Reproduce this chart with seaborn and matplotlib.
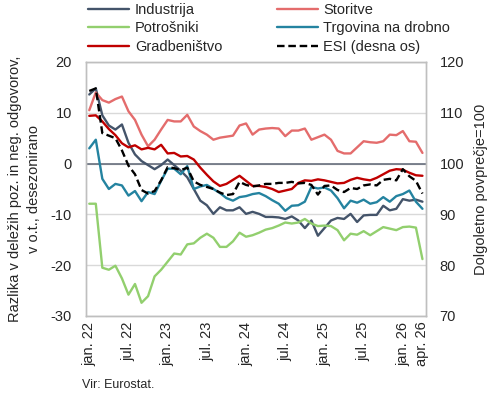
import pandas as pd
import seaborn as sns
import matplotlib
matplotlib.use("Agg")
from matplotlib import pyplot as plt
from matplotlib.lines import Line2D

# mesečni podatki jan. 22 - apr. 26 (52 mesecev), odčitano s slike
months = list(range(52))
tick_pos = [0, 6, 12, 18, 24, 30, 36, 42, 48, 51]
tick_labels = ["jan. 22", "jul. 22", "jan. 23", "jul. 23", "jan. 24",
               "jul. 24", "jan. 25", "jul. 25", "jan. 26", "apr. 26"]

industrija = [13.6, 14.8, 9.5, 7.5, 6.7, 7.7, 4.1, 1.8, 0.5, -0.3,
              -1.1, -0.3, 0.8, -0.3, -1.4, -2.7, -5.0, -7.3, -8.2, -9.9,
              -8.6, -9.2, -9.2, -8.6, -9.9, -9.5, -9.9, -10.5, -10.5, -10.6,
              -10.9, -10.4, -11.2, -12.7, -11.2, -14.2, -12.7, -11.2, -10.7, -10.9,
              -9.9, -11.5, -10.2, -10.1, -10.1, -8.3, -9.2, -8.9, -7.0, -7.3,
              -7.1, -7.5]
storitve = [10.5, 14.0, 12.5, 12.0, 12.7, 13.2, 10.3, 8.6, 5.7, 3.4,
            4.7, 6.7, 8.6, 8.3, 8.3, 9.6, 7.3, 6.4, 5.7, 4.7,
            5.1, 5.3, 5.5, 7.5, 7.9, 5.7, 6.7, 6.9, 7.0, 6.9,
            5.4, 6.5, 6.5, 6.9, 4.7, 5.2, 5.7, 4.7, 2.5, 2.0,
            2.0, 3.2, 4.4, 4.2, 4.1, 4.4, 5.7, 5.6, 6.4, 4.4,
            4.3, 2.1]
potrosniki = [-7.9, -7.9, -20.5, -20.9, -20.1, -22.6, -25.8, -23.7, -27.4, -26.1,
              -22.2, -20.9, -19.3, -17.7, -17.9, -15.9, -15.7, -14.6, -13.8, -14.6,
              -16.4, -16.4, -15.3, -13.6, -14.4, -14.1, -13.6, -13.0, -12.7, -12.2,
              -11.6, -11.8, -11.6, -10.9, -11.8, -12.3, -12.2, -12.3, -13.1, -15.1,
              -13.8, -14.0, -13.3, -14.1, -13.3, -12.5, -12.8, -13.1, -12.5, -12.4,
              -12.6, -18.8]
trgovina = [3.0, 4.7, -3.0, -5.0, -4.0, -4.3, -6.3, -5.4, -7.4, -5.6,
            -6.0, -3.4, -1.0, -1.0, -2.1, -0.5, -5.0, -4.5, -4.2, -5.0,
            -5.8, -6.8, -7.3, -6.6, -6.4, -6.0, -5.8, -6.4, -7.2, -7.9,
            -9.3, -8.3, -8.2, -7.5, -4.6, -4.9, -4.7, -5.3, -6.8, -8.8,
            -7.3, -7.7, -7.1, -7.9, -7.6, -6.6, -7.5, -6.4, -6.0, -5.3,
            -7.5, -8.9]
gradbenistvo = [9.4, 9.5, 8.3, 6.8, 5.6, 4.0, 3.2, 3.6, 2.8, 3.1,
                2.8, 3.7, 2.0, 2.1, 1.4, 1.5, 0.8, -0.8, -2.2, -3.5,
                -4.4, -4.0, -3.2, -2.4, -3.4, -4.4, -4.4, -4.6, -5.0, -5.6,
                -5.3, -5.0, -3.8, -3.3, -3.4, -3.1, -3.3, -3.6, -3.9, -3.8,
                -3.2, -2.8, -3.1, -3.3, -2.8, -2.1, -1.4, -1.1, -1.2, -1.8,
                -2.3, -2.4]
esi = [114.3, 114.8, 106.0, 105.5, 105.0, 102.6, 99.6, 97.9, 94.8, 94.1,
       94.6, 96.7, 99.3, 99.1, 98.7, 99.2, 96.5, 95.8, 95.4, 95.0,
       94.3, 93.8, 94.0, 96.4, 95.8, 95.5, 95.7, 96.0, 96.0, 96.2,
       96.2, 96.4, 96.1, 96.2, 95.8, 93.9, 95.6, 95.7, 94.8, 94.4,
       95.2, 95.0, 95.7, 95.9, 95.7, 96.8, 97.0, 96.7, 98.9, 97.5,
       96.6, 94.1]

series = {
    "Industrija": industrija,
    "Storitve": storitve,
    "Potrošniki": potrosniki,
    "Trgovina na drobno": trgovina,
    "Gradbeništvo": gradbenistvo,
}
colors = {
    "Industrija": "#44546a",
    "Storitve": "#e46c6c",
    "Potrošniki": "#92cf6e",
    "Trgovina na drobno": "#2483a0",
    "Gradbeništvo": "#c00000",
}

df = pd.DataFrame(series)
df["mesec"] = months
long = df.melt(id_vars="mesec", var_name="serija", value_name="vrednost")

sns.set_style("white")
plt.rcParams["font.family"] = ["Liberation Sans", "DejaVu Sans"]

fig = plt.figure(figsize=(4.9, 4.01), dpi=100)
ax = fig.add_axes([0.1755, 0.212, 0.6933, 0.6334])

ax.yaxis.grid(True, color="#d9d9d9", linewidth=1)
ax.set_axisbelow(True)
ax.axhline(0, color="#5b6372", linewidth=1.1, zorder=1)

sns.lineplot(data=long, x="mesec", y="vrednost", hue="serija",
             hue_order=list(series), palette=colors, linewidth=1.7,
             legend=False, ax=ax)

ax2 = ax.twinx()
sns.lineplot(x=months, y=esi, color="black", linewidth=1.7,
             dashes=False, ax=ax2)
ax2.lines[0].set_dashes((3.2, 1.6))

ax.set_xlim(-0.5, 51.5)
ax.set_ylim(-30, 20)
ax2.set_ylim(70, 120)
ax.set_yticks(range(-30, 21, 10))
ax.set_yticklabels([str(v) for v in range(-30, 21, 10)])
ax2.set_yticks(range(70, 121, 10))
ax.set_xticks(tick_pos)
ax.set_xticklabels(tick_labels, rotation=90)
ax.tick_params(axis="x", length=0, labelsize=10.5, colors="#262626", pad=4)
ax.tick_params(axis="y", length=0, labelsize=10.5, colors="#262626", pad=10)
ax2.tick_params(axis="y", length=0, labelsize=10.5, colors="#262626", pad=10)

for a in (ax, ax2):
    for s in a.spines.values():
        s.set_color("#bfbfbf")
        s.set_linewidth(1)

ax.set_xlabel("")
ax.set_ylabel("Razlika v deležih poz. in neg. odgovorov,\nv o.t., desezonirano",
              fontsize=10.5, color="#262626", labelpad=7, linespacing=1.45)
ax2.set_ylabel("Dolgoletno povprečje=100", fontsize=10.5, color="#262626",
               labelpad=7)

handles = [Line2D([], [], color=colors[n], lw=1.7) for n in series]
handles.append(Line2D([], [], color="black", lw=1.7, dashes=(3.2, 1.6)))
names = list(series) + ["ESI (desna os)"]
order = [0, 2, 4, 1, 3, 5]
fig.legend([handles[i] for i in order], [names[i] for i in order],
           loc="upper left", bbox_to_anchor=(0.153, 1.025), ncol=2,
           frameon=False, fontsize=10.5, handlelength=2.8, handletextpad=0.4,
           labelspacing=0.3, columnspacing=3.75, labelcolor="#262626")

fig.text(0.168, 0.04, "Vir: Eurostat.", fontsize=9, color="#262626",
         va="center")

fig.savefig("out.png", dpi=100)
